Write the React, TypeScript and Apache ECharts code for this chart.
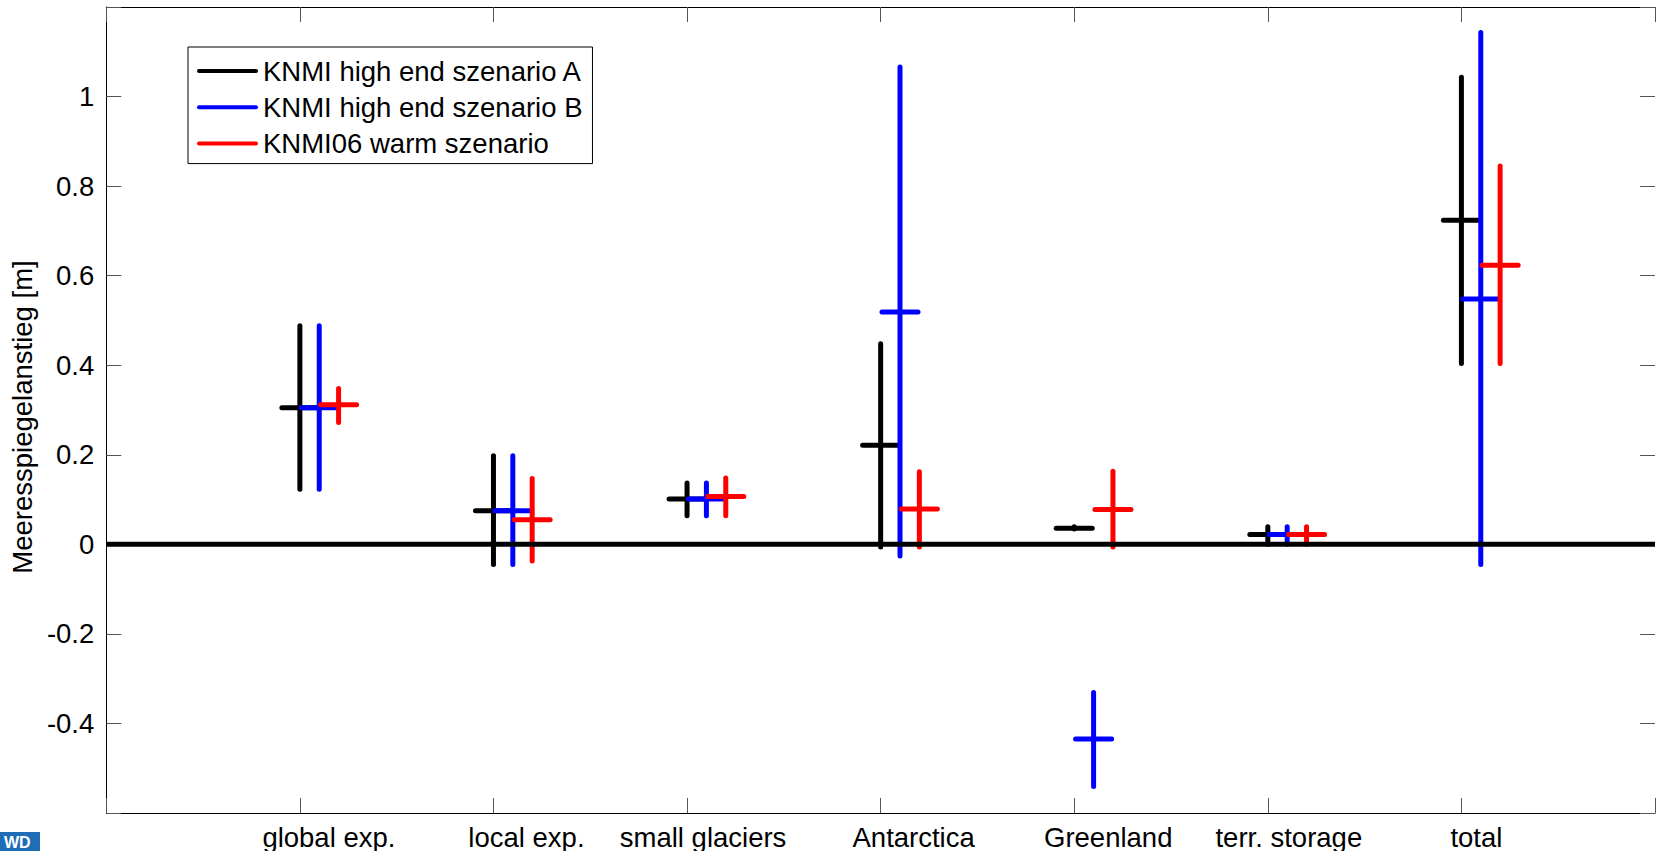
import React, { useEffect, useRef } from "react";
import * as echarts from "echarts";

// Categories (x positions 1..7)
const categories = [
  "global exp.",
  "local exp.",
  "small glaciers",
  "Antarctica",
  "Greenland",
  "terr. storage",
  "total",
];

const seriesNames = [
  "KNMI high end szenario A",
  "KNMI high end szenario B",
  "KNMI06 warm szenario",
];

// [mean, low, high] per category
const scenarioA = [
  [0.305, 0.123, 0.488],
  [0.075, -0.045, 0.198],
  [0.101, 0.064, 0.137],
  [0.221, -0.006, 0.448],
  [0.036, 0.034, 0.039],
  [0.022, 0.0, 0.039],
  [0.724, 0.404, 1.043],
];
const scenarioB = [
  [0.305, 0.123, 0.488],
  [0.075, -0.045, 0.198],
  [0.101, 0.064, 0.137],
  [0.519, -0.026, 1.066],
  [-0.435, -0.541, -0.331],
  [0.022, 0.0, 0.039],
  [0.548, -0.045, 1.143],
];
const scenarioC = [
  [0.312, 0.272, 0.348],
  [0.055, -0.037, 0.147],
  [0.107, 0.064, 0.148],
  [0.079, -0.006, 0.162],
  [0.078, -0.006, 0.163],
  [0.022, 0.0, 0.039],
  [0.623, 0.404, 0.845],
];

const yTicks = [-0.4, -0.2, 0, 0.2, 0.4, 0.6, 0.8, 1];

// styling
const colors = ["#000000", "#0000ff", "#ff0000"];
const offsets = [0, 0.1, 0.2];
const labelShift = [29, 33, 16, 33, 34, 21, 15]; // px shift of tick labels to the right
const FONT = "'Liberation Sans', Arial, Helvetica, sans-serif";
const FS = 27.5;
const LW = 5;
const HALF = 0.093;

function makeSeries(idx: number, values: number[][]) {
  const data = values.map((v, i) => [i + 1, v[0], v[1], v[2]]);
  const color = colors[idx];
  const off = offsets[idx];
  return {
    type: "custom",
    name: seriesNames[idx],
    itemStyle: { color },
    z: 2 + idx,
    data,
    encode: { x: 0, y: [1, 2, 3] },
    renderItem: (params: any, api: any) => {
      const x = api.value(0) + off;
      const mean = api.value(1);
      const lo = api.value(2);
      const hi = api.value(3);
      const top = api.coord([x, hi]);
      const bot = api.coord([x, lo]);
      const l = api.coord([x - HALF, mean]);
      const r = api.coord([x + HALF, mean]);
      const style = { stroke: color, lineWidth: LW, lineCap: "round" };
      return {
        type: "group",
        children: [
          { type: "line", shape: { x1: top[0], y1: top[1], x2: bot[0], y2: bot[1] }, style },
          { type: "line", shape: { x1: l[0], y1: l[1], x2: r[0], y2: r[1] }, style },
        ],
      };
    },
  };
}

export default function App() {
  const ref = useRef<HTMLDivElement>(null);
  useEffect(() => {
    if (!ref.current) return;
    const chart = echarts.init(ref.current, null, { renderer: "svg" });
    const yFmt = (v: number) => {
      const r = Math.round(v * 10) / 10;
      return yTicks.some((t) => Math.abs(t - r) < 1e-9) ? String(r) : "";
    };
    const rich: any = {};
    labelShift.forEach((s, i) => {
      rich["c" + i] = {
        fontSize: FS,
        fontFamily: FONT,
        color: "#000",
        padding: [0, 0, 0, 2 * s],
      };
    });
    const axisLine = { show: true, onZero: false, lineStyle: { color: "#000", width: 1 } };
    const axisTick = { show: true, inside: true, length: 15, lineStyle: { color: "#555", width: 1 } };
    chart.setOption({
      animation: false,
      backgroundColor: "#fff",
      textStyle: { fontFamily: FONT },
      grid: { left: 105, top: 7, width: 1554.4, height: 807, containLabel: false },
      legend: {
        show: true,
        data: seriesNames.map((n) => ({
          name: n,
          icon: "path://M2,0 L59,0 A2,2 0 0 1 59,4 L2,4 A2,2 0 0 1 2,0 Z",
        })),
        orient: "vertical",
        left: 188,
        top: 47,
        itemWidth: 61,
        itemHeight: LW,
        itemGap: 8.3,
        padding: [10, 10, 6, 9],
        borderColor: "#000",
        borderWidth: 1,
        backgroundColor: "#fff",
        selectedMode: false,
        textStyle: { fontSize: FS, fontFamily: FONT, color: "#000", lineHeight: 27.5 },
      },
      xAxis: [
        {
          type: "value",
          min: 0,
          max: 8,
          interval: 1,
          position: "bottom",
          axisLine,
          axisTick,
          splitLine: { show: false },
          axisLabel: {
            show: true,
            margin: 10,
            fontSize: FS,
            fontFamily: FONT,
            color: "#000",
            rich,
            formatter: (v: number) => {
              const i = Math.round(v) - 1;
              return i >= 0 && i < categories.length ? `{c${i}|${categories[i]}}` : "";
            },
          },
        },
        {
          type: "value",
          min: 0,
          max: 8,
          interval: 1,
          position: "top",
          axisLine,
          axisTick,
          splitLine: { show: false },
          axisLabel: { show: false },
        },
      ],
      yAxis: [
        {
          type: "value",
          min: -0.6,
          max: 1.2,
          interval: 0.2,
          position: "left",
          axisLine,
          axisTick,
          splitLine: { show: false },
          name: "Meeresspiegelanstieg [m]",
          nameLocation: "middle",
          nameGap: 68,
          nameRotate: 90,
          nameTextStyle: { fontSize: FS, fontFamily: FONT, color: "#000", padding: [0, 14, 0, 0] },
          axisLabel: {
            show: true,
            margin: 12,
            fontSize: FS,
            fontFamily: FONT,
            color: "#000",
            formatter: yFmt,
          },
        },
        {
          type: "value",
          min: -0.6,
          max: 1.2,
          interval: 0.2,
          position: "right",
          axisLine: { show: false, onZero: false },
          axisTick,
          splitLine: { show: false },
          axisLabel: { show: false },
        },
      ],
      series: [
        makeSeries(0, scenarioA),
        makeSeries(1, scenarioB),
        makeSeries(2, scenarioC),
        {
          type: "line",
          name: "zero",
          data: [
            [0, 0],
            [8, 0],
          ],
          showSymbol: false,
          symbol: "none",
          silent: true,
          z: 10,
          lineStyle: { color: "#000", width: LW },
        },
      ],
      graphic: [
        {
          type: "rect",
          left: 0,
          top: 832,
          shape: { width: 40, height: 19 },
          style: { fill: "#1f6db5" },
        },
        {
          type: "text",
          left: 4,
          top: 834,
          style: { text: "WD", fill: "#fff", font: `bold 16px ${FONT}` },
        },
      ],
    });
    return () => chart.dispose();
  }, []);
  return (
    <div
      ref={ref}
      style={{ position: "fixed", left: 0, top: 0, width: 1658, height: 851, background: "#fff" }}
    />
  );
}
